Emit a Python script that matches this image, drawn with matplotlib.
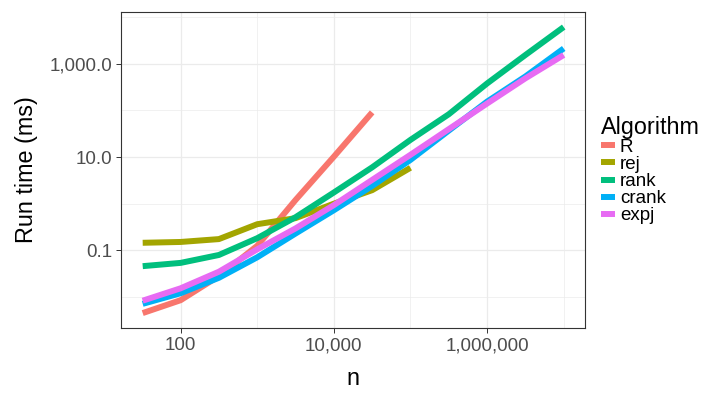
import matplotlib
matplotlib.use("Agg")
import matplotlib.pyplot as plt
from matplotlib.ticker import FixedLocator, FuncFormatter, NullFormatter

plt.rcParams['font.family'] = ['Liberation Sans', 'DejaVu Sans']

# problem sizes (half-decade steps)
n = [32, 100, 316, 1000, 3162, 10000, 31623, 100000, 316228, 1000000, 3162278, 10000000]

algorithms = ["R", "rej", "rank", "crank", "expj"]
colors = ["#F8766D", "#A3A500", "#00BF7D", "#00B0F6", "#E76BF3"]

# run times in ms
t_R = [0.0045, 0.0085, 0.028, 0.125, 1.2, 10.2, 91]
t_rej = [0.145, 0.151, 0.174, 0.363, 0.49, 1.0, 1.95, 5.9]
t_rank = [0.0457, 0.0537, 0.0794, 0.182, 0.513, 1.74, 6.03, 23.4, 83, 380, 1550, 6170]
t_crank = [0.0071, 0.012, 0.0257, 0.0708, 0.229, 0.724, 2.4, 8.7, 37, 155, 537, 2140]
t_expj = [0.0083, 0.0153, 0.0347, 0.105, 0.295, 0.933, 3.24, 11.2, 39.8, 141, 490, 1550]
times = [t_R, t_rej, t_rank, t_crank, t_expj]

x_major = [100, 10000, 1000000]
x_minor = [1000, 100000, 10000000]
y_major = [0.1, 10, 1000]
y_minor = [0.01, 1, 100, 10000]

fig = plt.figure(figsize=(7.2, 3.96), dpi=100)
ax = fig.add_axes([121/720, 1 - 328/396, 464/720, 316/396])

for name, col, t in zip(algorithms, colors, times):
    ax.plot(n[:len(t)], t, color=col, lw=4.3, solid_capstyle='butt',
            solid_joinstyle='round', label=name, zorder=3)

ax.set_xscale('log')
ax.set_yscale('log')
ax.set_xlim(10**1.222, 10**7.278)
ax.set_ylim(10**-2.667, 10**4.113)

ax.xaxis.set_major_locator(FixedLocator(x_major))
ax.xaxis.set_minor_locator(FixedLocator(x_minor))
ax.yaxis.set_major_locator(FixedLocator(y_major))
ax.yaxis.set_minor_locator(FixedLocator(y_minor))
ax.xaxis.set_major_formatter(FuncFormatter(lambda v, p: f"{v:,.0f}"))
ax.yaxis.set_major_formatter(FuncFormatter(lambda v, p: f"{v:,.1f}"))
ax.xaxis.set_minor_formatter(NullFormatter())
ax.yaxis.set_minor_formatter(NullFormatter())

ax.grid(which='major', color='#EBEBEB', lw=0.9, zorder=0)
ax.grid(which='minor', color='#EBEBEB', lw=0.5, zorder=0)
ax.set_axisbelow(True)

ax.tick_params(which='major', length=3.5, width=0.7, color='#333333',
               labelsize=13.5, labelcolor='#4D4D4D', pad=3)
ax.tick_params(which='minor', length=0)
for s in ax.spines.values():
    s.set_color('#333333')
    s.set_linewidth(0.8)

ax.set_xlabel("n", fontsize=16.8, labelpad=9)
ax.set_ylabel("Run time (ms)", fontsize=16.8, labelpad=8)

leg = ax.legend(loc='center left', bbox_to_anchor=(1.035, 0.5), frameon=False,
                title="Algorithm", fontsize=13.5, title_fontsize=16.8,
                handlelength=0.75, handletextpad=0.25, labelspacing=0.0,
                borderpad=0, borderaxespad=0, alignment='left')
for h in leg.get_lines():
    h.set_linewidth(4.3)

fig.savefig("out.png", dpi=100)
